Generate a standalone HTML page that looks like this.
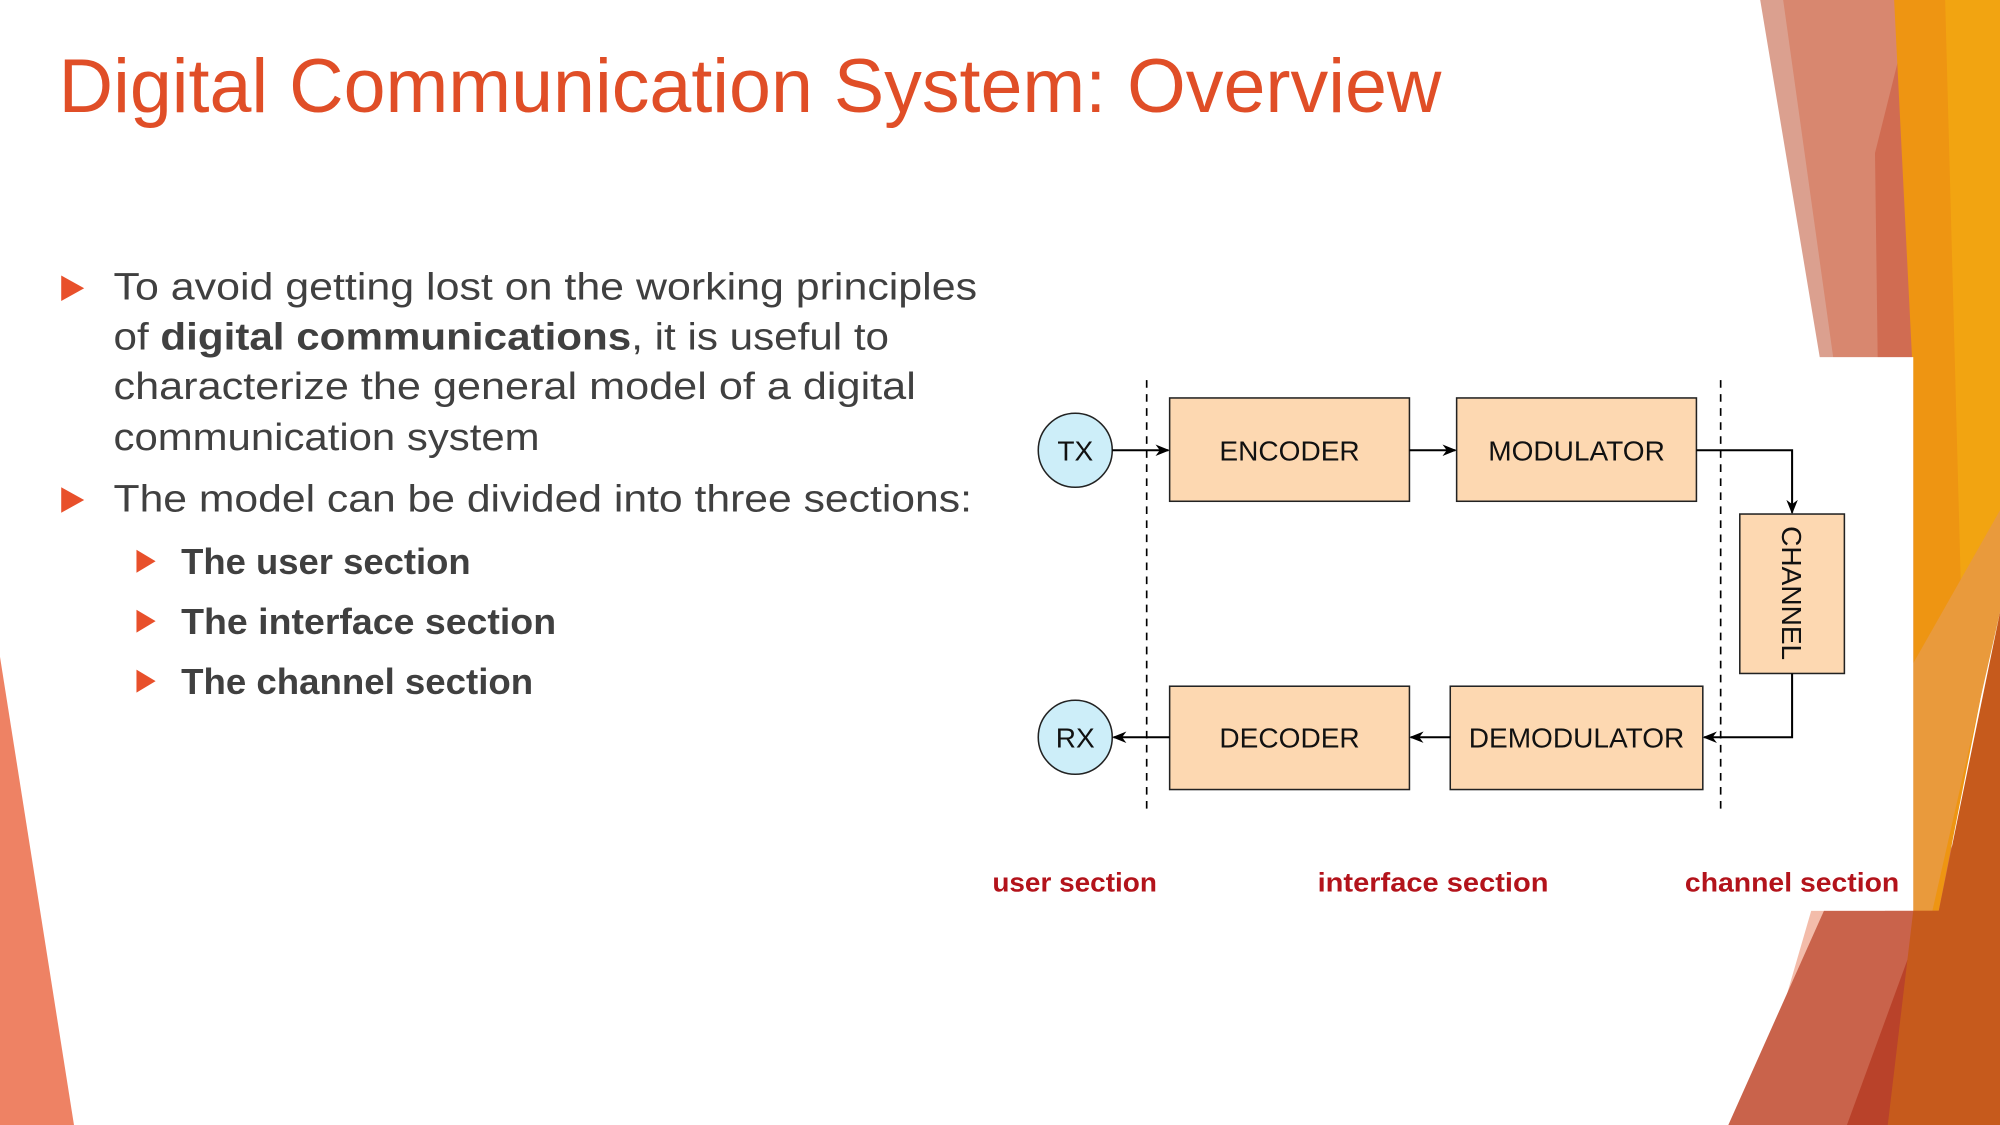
<!DOCTYPE html>
<html><head><meta charset="utf-8"><style>
html,body{margin:0;padding:0;background:#fff;}
svg{display:block;}
</style></head><body>
<svg width="2000" height="1125" viewBox="0 0 1568 882" preserveAspectRatio="none" xmlns="http://www.w3.org/2000/svg" font-family="'Liberation Sans','DejaVu Sans',sans-serif">
<defs>
<marker id="ah" viewBox="0 0 10 10" refX="9" refY="5" markerWidth="7" markerHeight="7" orient="auto"><path d="M0,1 L10,5 L0,9 L3,5 z" fill="#000"/></marker>
</defs>
<!-- decorations right -->
<polygon points="1380,0 1490,0 1520,882 1430,300" fill="#dba08f"/>
<polygon points="1398,0 1490,0 1530,882 1440,300" fill="#d8876f"/>
<polygon points="1470,120 1500,0 1540,882 1480,882" fill="#d06c52"/>
<polygon points="1485,0 1568,0 1568,470 1520,714 1500,714 1500,300" fill="#ee9512"/>
<polygon points="1525,0 1568,0 1568,470 1540,560" fill="#f2a411"/>
<polygon points="1500,520 1568,400 1568,480 1515,714 1500,714" fill="#e99a3c"/>
<polygon points="1420,714 1500,714 1470,760 1395,800" fill="#f3bcaa"/>
<polygon points="1355,882 1430,714 1500,714 1500,882" fill="#c9634b"/>
<polygon points="1448,882 1500,740 1520,882" fill="#b9422a"/>
<polygon points="1480,882 1500,714 1520,714 1568,480 1568,882" fill="#c65a1c"/>
<!-- left wedge -->
<polygon points="0,515 0,882 58,882" fill="#ee8264"/>
<!-- white panel -->
<rect x="770" y="280" width="730" height="434" fill="#fff"/>

<!-- title -->
<text x="46" y="88" font-size="60" fill="#e04e27" textLength="1084" lengthAdjust="spacingAndGlyphs">Digital Communication System: Overview</text>

<!-- bullets -->
<g fill="#e8502b">
<polygon points="48,216 66,226 48,236"/>
<polygon points="48,382 66,392 48,402"/>
<polygon points="107,431 122,440 107,449"/>
<polygon points="107,478 122,487 107,496"/>
<polygon points="107,525 122,534 107,543"/>
</g>
<g fill="#404040" font-size="30">
<text x="89" y="235" textLength="677" lengthAdjust="spacingAndGlyphs">To avoid getting lost on the working principles</text>
<text x="89" y="274" textLength="608" lengthAdjust="spacingAndGlyphs">of <tspan font-weight="bold">digital communications</tspan>, it is useful to</text>
<text x="89" y="313" textLength="629" lengthAdjust="spacingAndGlyphs">characterize the general model of a digital</text>
<text x="89" y="353" textLength="334" lengthAdjust="spacingAndGlyphs">communication system</text>
<text x="89" y="401" textLength="673" lengthAdjust="spacingAndGlyphs">The model can be divided into three sections:</text>
<g font-weight="bold" font-size="28">
<text x="142" y="450" textLength="227" lengthAdjust="spacingAndGlyphs">The user section</text>
<text x="142" y="497" textLength="294" lengthAdjust="spacingAndGlyphs">The interface section</text>
<text x="142" y="544" textLength="276" lengthAdjust="spacingAndGlyphs">The channel section</text>
</g>
</g>

<!-- diagram -->
<g stroke="#000" stroke-width="1.3" stroke-dasharray="6,5">
<line x1="899" y1="298" x2="899" y2="634"/>
<line x1="1349" y1="298" x2="1349" y2="634"/>
</g>
<g fill="#fdd8b1" stroke="#222" stroke-width="1.2">
<rect x="917" y="312" width="188" height="81"/>
<rect x="1142" y="312" width="188" height="81"/>
<rect x="917" y="538" width="188" height="81"/>
<rect x="1137" y="538" width="198" height="81"/>
<rect x="1364" y="403" width="82" height="125"/>
</g>
<g fill="#cdeef9" stroke="#222" stroke-width="1.2">
<ellipse cx="843" cy="353" rx="29" ry="29"/>
<ellipse cx="843" cy="578" rx="29" ry="29"/>
</g>
<g stroke="#000" stroke-width="1.6" fill="none" marker-end="url(#ah)">
<line x1="872" y1="353" x2="916" y2="353"/>
<line x1="1105" y1="353" x2="1141" y2="353"/>
<polyline points="1330,353 1405,353 1405,402"/>
<polyline points="1405,528 1405,578 1336,578"/>
<line x1="1137" y1="578" x2="1106" y2="578"/>
<line x1="917" y1="578" x2="873" y2="578"/>
</g>
<g font-size="22" fill="#111" text-anchor="middle">
<text x="843" y="361">TX</text>
<text x="843" y="586">RX</text>
<text x="1011" y="361">ENCODER</text>
<text x="1236" y="361">MODULATOR</text>
<text x="1011" y="586">DECODER</text>
<text x="1236" y="586">DEMODULATOR</text>
<text x="0" y="0" transform="translate(1397,465) rotate(90)">CHANNEL</text>
</g>
<g font-size="21" font-weight="bold" fill="#b3131b">
<text x="778" y="699" textLength="129" lengthAdjust="spacingAndGlyphs">user section</text>
<text x="1033" y="699" textLength="181" lengthAdjust="spacingAndGlyphs">interface section</text>
<text x="1321" y="699" textLength="168" lengthAdjust="spacingAndGlyphs">channel section</text>
</g>
</svg>
</body></html>
